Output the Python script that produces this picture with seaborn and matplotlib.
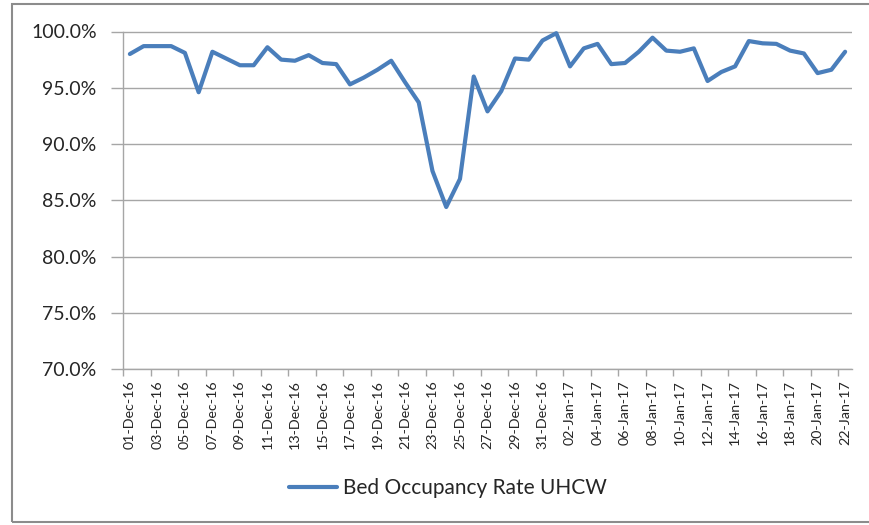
import matplotlib
matplotlib.use("Agg")
import numpy as np
import pandas as pd
import seaborn as sns
import matplotlib.pyplot as plt
from matplotlib.patches import Rectangle
from matplotlib.lines import Line2D
from matplotlib.ticker import FixedLocator, FuncFormatter

# ---- data ----
series_name = "Bed Occupancy Rate UHCW"
dates = pd.date_range("2016-12-01", "2017-01-22", freq="D")
date_labels = [d.strftime("%d-%b-%y") for d in dates]
occupancy = [
    98.0, 98.7, 98.7, 98.7, 98.1, 94.6, 98.2, 97.6, 97.0, 97.0,
    98.6, 97.5, 97.4, 97.9, 97.2, 97.1, 95.3, 95.9, 96.6, 97.4,
    95.5, 93.7, 87.6, 84.4, 86.9, 96.0, 92.9, 94.7, 97.6, 97.5,
    99.2, 99.85, 96.9, 98.5, 98.9, 97.1, 97.2, 98.2, 99.45, 98.3,
    98.2, 98.5, 95.6, 96.4, 96.9, 99.15, 98.95, 98.9, 98.3, 98.05,
    96.3, 96.6, 98.2,
]
y_ticks = [70, 75, 80, 85, 90, 95, 100]

df = pd.DataFrame({
    "idx": np.arange(len(occupancy)),
    "rate": occupancy,
    "series": series_name,
})

# ---- style ----
sns.set_theme(style="white")
plt.rcParams["font.family"] = ["Lato", "DejaVu Sans"]
text_color = "#262626"
grid_color = "#a6a6a6"
line_color = "#4A7EBB"

fig = plt.figure(figsize=(8.69, 5.25), dpi=100)
W, H = 869, 525
ax = fig.add_axes([123 / W, 1 - 369 / H, (852 - 123) / W, (369 - 31.5) / H])

sns.lineplot(data=df, x="idx", y="rate", hue="series", palette=[line_color],
             linewidth=3.0, ax=ax, legend=False)

ax.set_xlim(-0.5, len(occupancy) - 0.5)
ax.set_ylim(70, 100)
ax.set_xlabel("")
ax.set_ylabel("")

# y axis
ax.yaxis.set_major_locator(FixedLocator(y_ticks))
ax.yaxis.set_major_formatter(FuncFormatter(lambda v, p: f"{v:.1f}%"))
ax.tick_params(axis="y", which="major", left=True, length=9, width=1,
               color=grid_color, labelsize=14, labelcolor=text_color, pad=10)
ax.yaxis.grid(True, color=grid_color, linewidth=1)
ax.xaxis.grid(False)

# x axis
tick_pos = list(range(0, len(occupancy), 2))
ax.set_xticks(tick_pos)
ax.set_xticklabels([date_labels[i] for i in tick_pos], rotation=90)
ax.xaxis.set_minor_locator(FixedLocator([i - 0.5 for i in range(0, len(occupancy) + 1, 2)]))
ax.tick_params(axis="x", which="major", bottom=True, length=0, labelsize=10.3,
               labelcolor=text_color, pad=8)
ax.tick_params(axis="x", which="minor", bottom=True, length=5, width=1, color=grid_color)

for s in ["top", "right"]:
    ax.spines[s].set_visible(False)
for s in ["left", "bottom"]:
    ax.spines[s].set_color(grid_color)
    ax.spines[s].set_linewidth(1)

# legend
handle = Line2D([0], [0], color=line_color, linewidth=3.0)
fig.legend([handle], [series_name], loc="center", bbox_to_anchor=(448 / W, 1 - 488 / H),
           frameon=False, fontsize=15, handlelength=2.3, handletextpad=0.3,
           labelcolor=text_color)

# outer chart border (right edge is cut off in the reference)
fig.add_artist(Rectangle((12 / W, 1 - 522 / H), (890 - 12) / W, (522 - 4) / H,
                         transform=fig.transFigure, fill=False,
                         edgecolor="#8c8c8c", linewidth=1.5, clip_on=False))

fig.savefig("out.png", dpi=100)
